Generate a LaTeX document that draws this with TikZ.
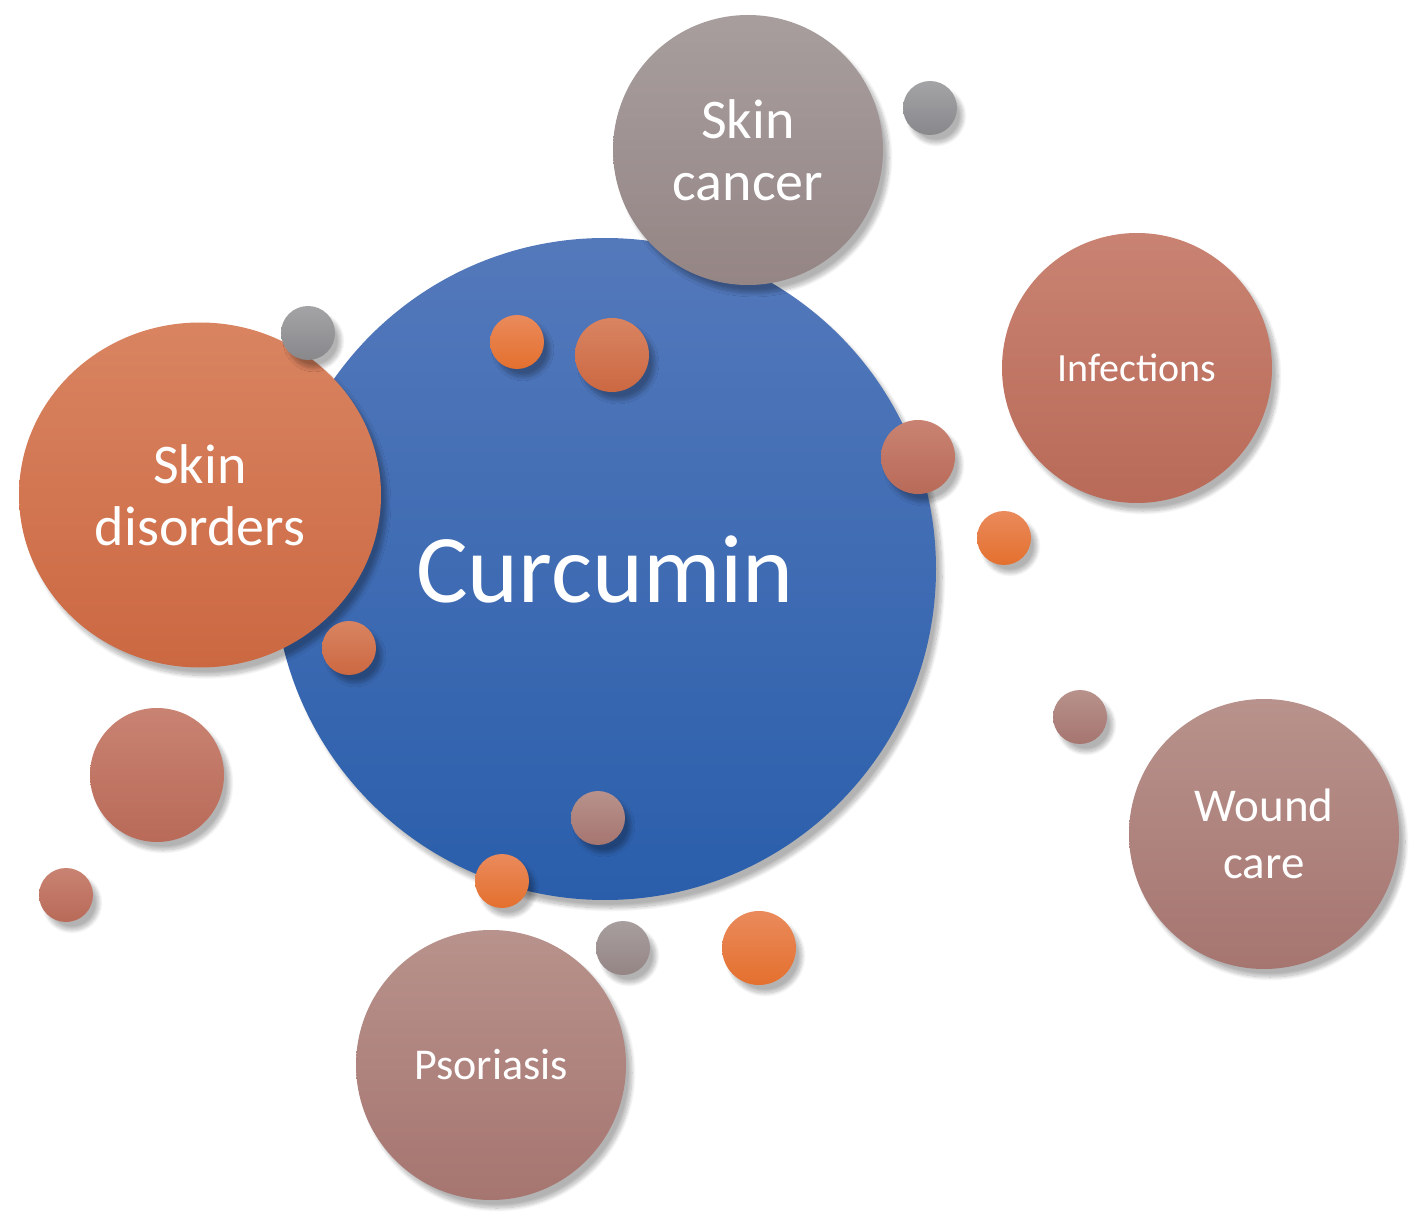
\documentclass[tikz,border=0pt]{standalone}
\usepackage{fontspec}
\setmainfont{Carlito}
\usepackage{xcolor}
\usetikzlibrary{shadows.blur,shapes.geometric}
\definecolor{bluetop}{RGB}{84,121,187}
\definecolor{bluebot}{RGB}{42,94,171}
\definecolor{greytop}{RGB}{168,158,158}
\definecolor{greybot}{RGB}{149,133,133}
\definecolor{steeltop}{RGB}{164,164,167}
\definecolor{steelbot}{RGB}{136,136,140}
\definecolor{ambertop}{RGB}{217,132,97}
\definecolor{amberbot}{RGB}{203,104,66}
\definecolor{brighttop}{RGB}{234,138,92}
\definecolor{brightbot}{RGB}{228,112,46}
\definecolor{salmontop}{RGB}{201,131,114}
\definecolor{salmonbot}{RGB}{185,106,88}
\definecolor{mauvetop}{RGB}{184,146,140}
\definecolor{mauvebot}{RGB}{166,117,112}

\tikzset{
  bubble/.style={circle, inner sep=0pt, text=white, align=center,
    blur shadow={shadow xshift=3pt, shadow yshift=-4pt, shadow blur steps=14, shadow opacity=30}},
  blue/.style={bubble, top color=bluetop, bottom color=bluebot},
  greyb/.style={bubble, top color=greytop, bottom color=greybot},
  steel/.style={bubble, top color=steeltop, bottom color=steelbot},
  amber/.style={bubble, top color=ambertop, bottom color=amberbot},
  bright/.style={bubble, top color=brighttop, bottom color=brightbot},
  salmon/.style={bubble, top color=salmontop, bottom color=salmonbot},
  mauve/.style={bubble, top color=mauvetop, bottom color=mauvebot}
}

\begin{document}
\begin{tikzpicture}[x=0.5pt, y=-0.5pt]
  \useasboundingbox (0,0) rectangle (1421,1225);

  % Centre
  \node[blue, minimum size=331pt, font=\fontsize{48.5}{58}\selectfont] (curcumin) at (605,569) {Curcumin};

  % Main topics
  \node[amber, ellipse, minimum width=181pt, minimum height=172.5pt, font=\fontsize{28}{31}\selectfont] (disorders) at (200,495) {Skin\\disorders};
  \node[greyb, minimum size=135pt, font=\fontsize{28}{31}\selectfont] (cancer) at (748,150) {Skin\\cancer};
  \node[salmon, minimum size=135pt, font=\fontsize{20}{24}\selectfont] (infections) at (1137,368) {Infections};
  \node[mauve, minimum size=135pt, font=\fontsize{23.5}{28.5}\selectfont] (wound) at (1264,834) {Wound\\care};
  \node[mauve, minimum size=135pt, font=\fontsize{22}{26}\selectfont] (psoriasis) at (491,1065) {Psoriasis};

  % Small dots
  \node[steel, minimum size=27pt] (dotA) at (930,108) {};
  \node[steel, minimum size=27pt] (dotB) at (308,333) {};
  \node[bright, minimum size=27pt] (dotC) at (517,342) {};
  \node[amber, minimum size=37pt] (dotD) at (612,355) {};
  \node[salmon, minimum size=37pt] (dotE) at (918,457) {};
  \node[bright, minimum size=27pt] (dotF) at (1004,538) {};
  \node[amber, minimum size=27pt] (dotG) at (349,648) {};
  \node[salmon, minimum size=67pt] (dotH) at (157,775) {};
  \node[salmon, minimum size=27pt] (dotI) at (66,895) {};
  \node[mauve, minimum size=27pt] (dotJ) at (598,818) {};
  \node[bright, minimum size=27pt] (dotK) at (502,881) {};
  \node[greyb, minimum size=27pt] (dotL) at (623,948) {};
  \node[bright, minimum size=37pt] (dotM) at (759,948) {};
  \node[mauve, minimum size=27pt] (dotN) at (1080,717) {};
\end{tikzpicture}
\end{document}
